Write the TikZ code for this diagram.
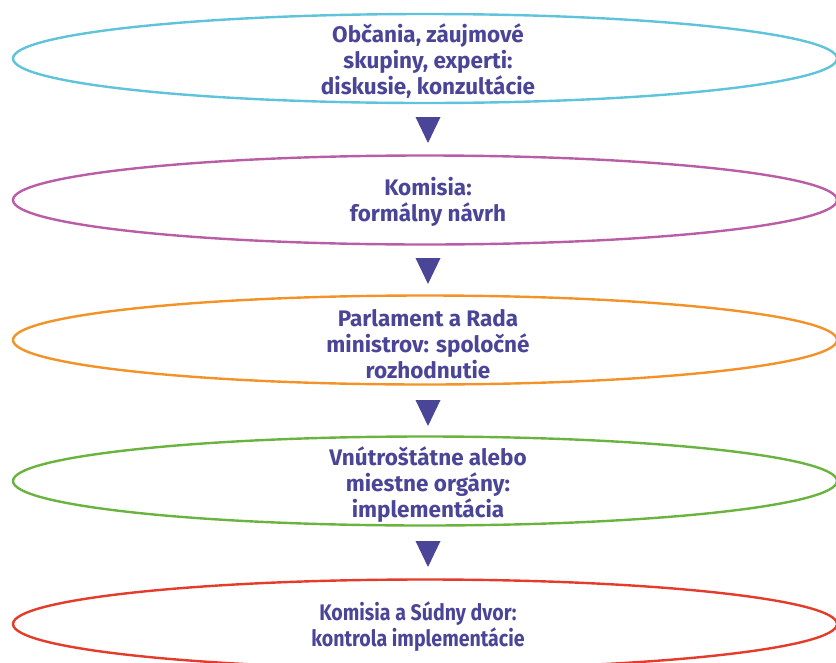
\documentclass[tikz,border=0pt]{standalone}
\usepackage{fontspec}
\setmainfont{Fira Sans}
\usetikzlibrary{shapes.geometric}
\definecolor{txt}{HTML}{4A4597}
\definecolor{c1}{HTML}{5EC3DB}
\definecolor{c2}{HTML}{B95DA6}
\definecolor{c3}{HTML}{F29227}
\definecolor{c4}{HTML}{6BB33F}
\definecolor{c5}{HTML}{E43B2A}
\begin{document}
\begin{tikzpicture}[x=1pt,y=-1pt,
  oval/.style={ellipse,draw=#1,line width=2.4pt,minimum width=824pt,minimum height=89pt,inner sep=0pt},
  lbl/.style={text=txt,font=\fontsize{22.5}{26}\selectfont\bfseries,align=center,inner sep=0pt},
  tri/.style={fill=txt,draw=none}]
\useasboundingbox (0,0) rectangle (836,662);
\clip (0,0) rectangle (836,662);
\node[oval=c1] (e1) at (425,58.5) {};
\node[oval=c2] (e2) at (425,200) {};
\node[oval=c3] (e3) at (425,340) {};
\node[oval=c4] (e4) at (425,481) {};
\node[oval=c5] (e5) at (425,624) {};
\node[lbl] (t1) at ([xshift=3pt,yshift=-3pt]e1.center) {Občania, záujmové\\skupiny, experti:\\diskusie, konzultácie};
\node[lbl] (t2) at ([xshift=3pt,yshift=-2pt]e2.center) {Komisia:\\formálny návrh};
\node[lbl] (t3) at ([xshift=3pt,yshift=-4pt]e3.center) {Parlament a Rada\\ministrov: spoločné\\rozhodnutie};
\node[lbl] (t4) at ([xshift=3pt,yshift=-4pt]e4.center) {Vnútroštátne alebo\\miestne orgány:\\implementácia};
\node[lbl] (t5) at ([xshift=-7pt,yshift=-3pt]e5.center) {\scalebox{0.87}[1]{Komisia a Súdny dvor:}\\\scalebox{0.87}[1]{kontrola implementácie}};
\foreach \y in {117,258,400,541}{
  \fill[tri] (415.5,\y) -- (440.5,\y) -- (428,\y+26) -- cycle;
}
\end{tikzpicture}
\end{document}
